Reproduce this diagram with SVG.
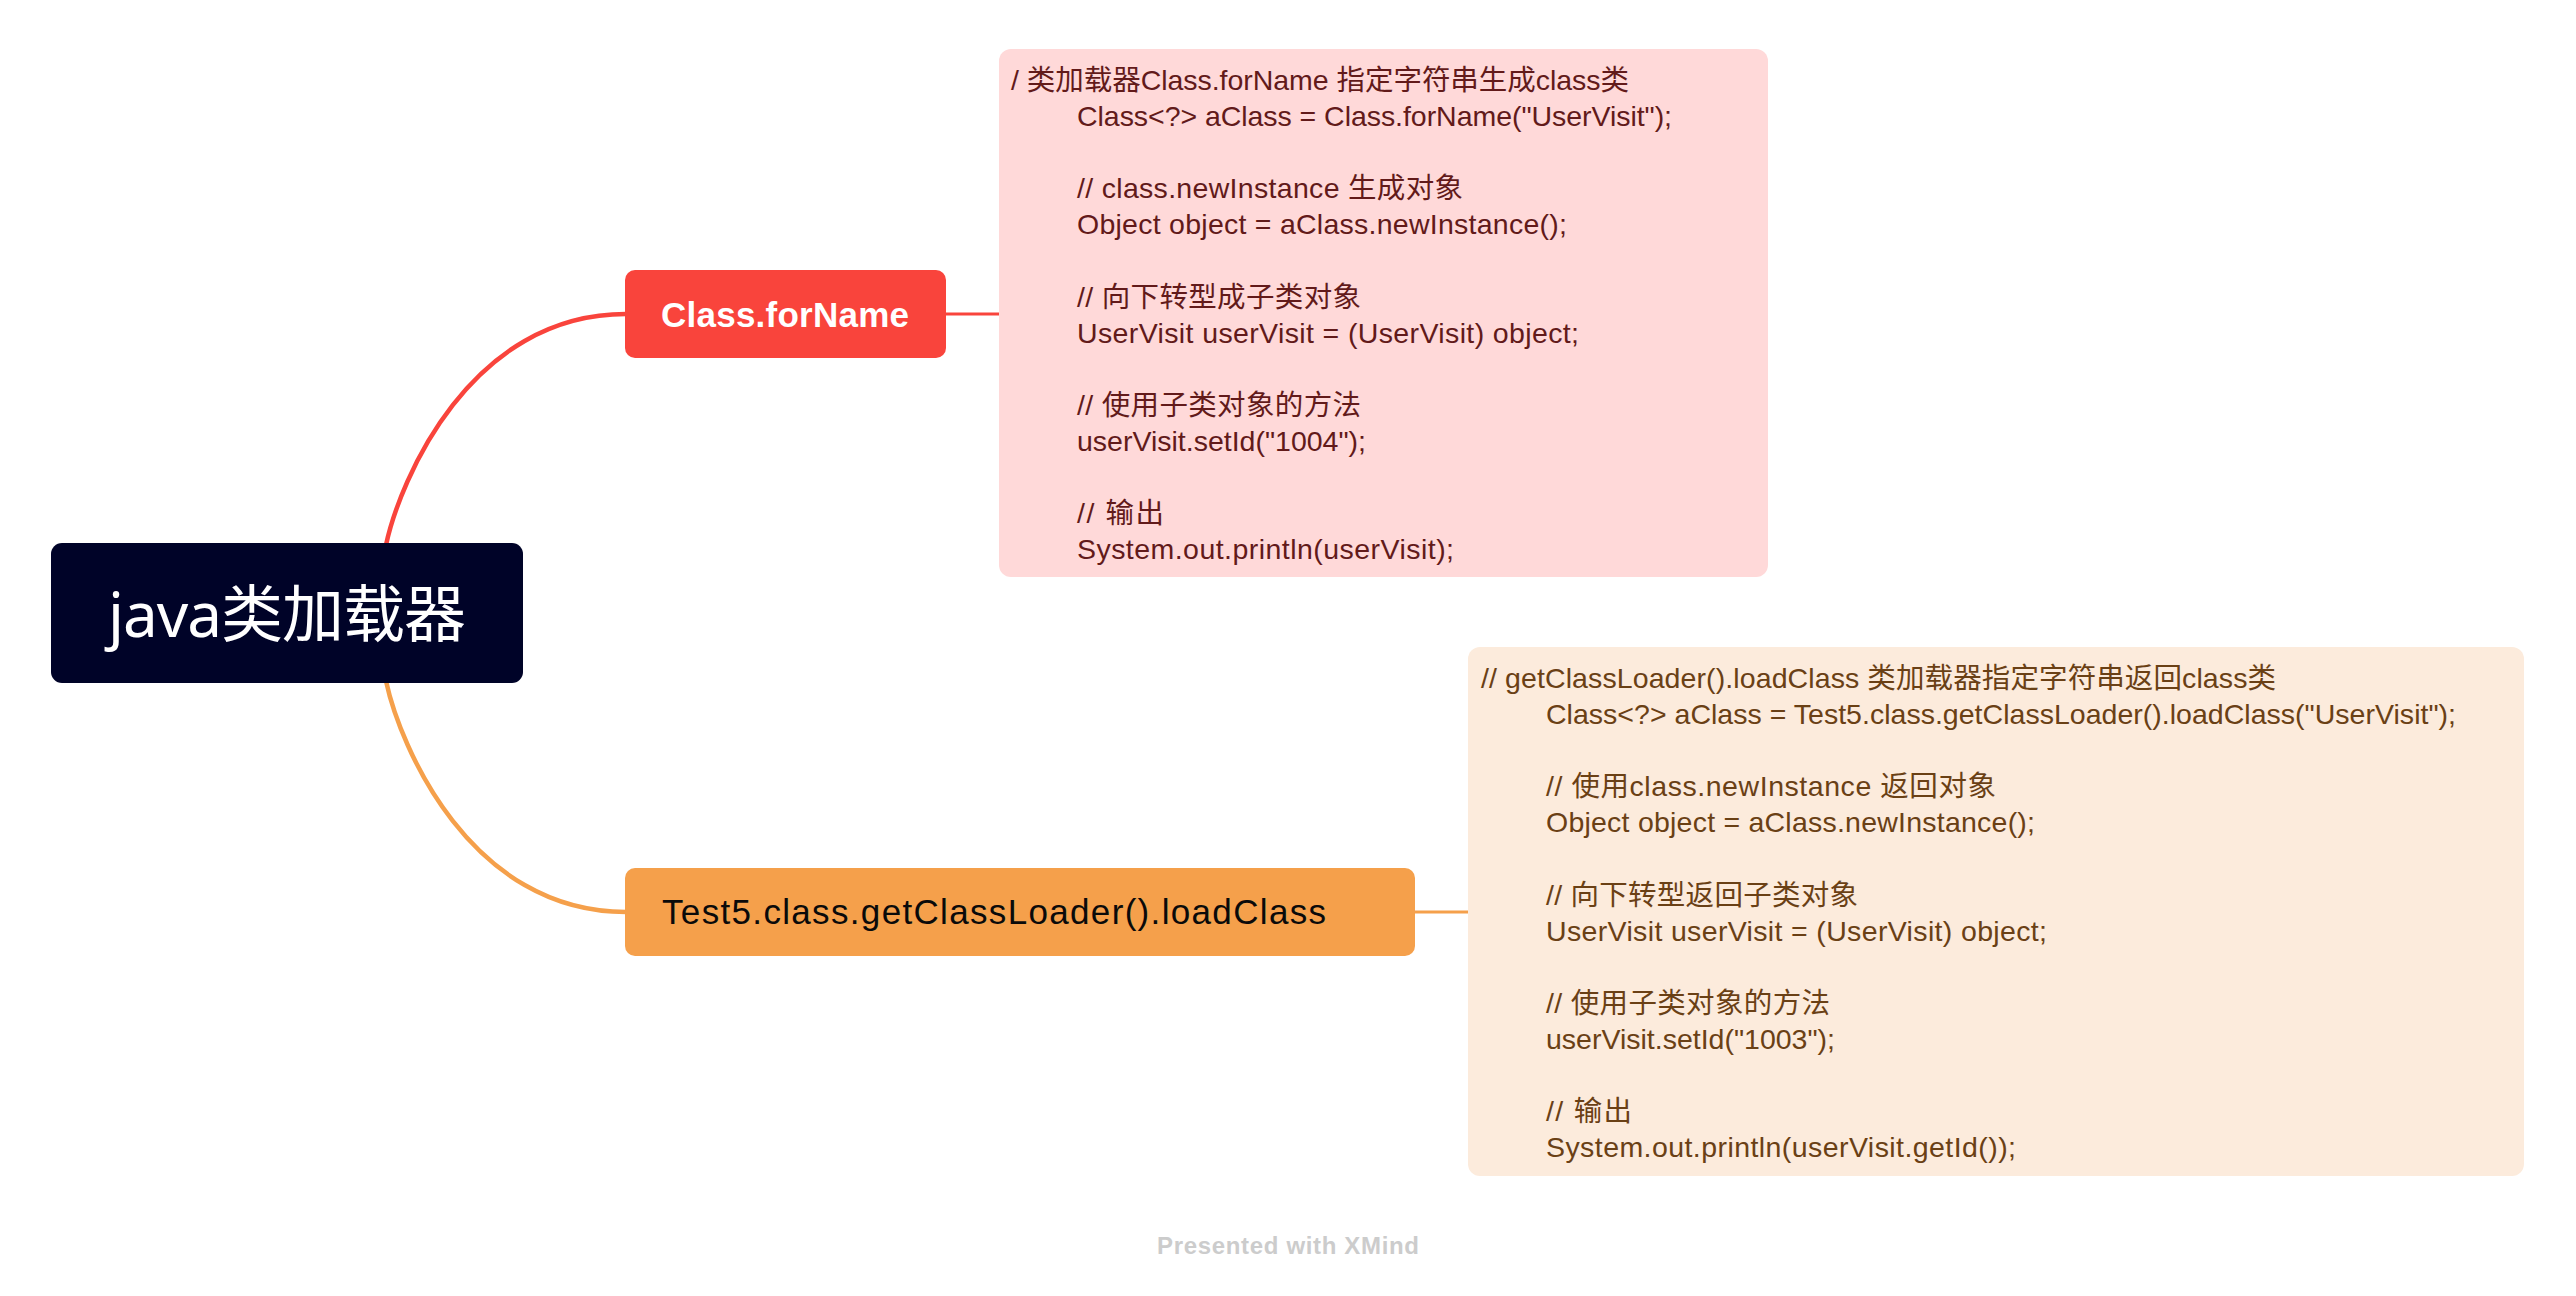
<svg xmlns="http://www.w3.org/2000/svg" width="2576" height="1296" viewBox="0 0 2576 1296">
<style>
.code{font-family:'Liberation Sans','Noto Sans CJK SC',sans-serif;font-size:28.5px}
.n1{fill:#621a1a}
.n2{fill:#6a4015}
.branch{fill:none;stroke-width:4.5;stroke-linecap:round}
.link{fill:none;stroke-width:3}
</style>
<rect x="0" y="0" width="2576" height="1296" fill="#ffffff"/>
<g id="connectors">
<path class="branch" stroke="#f9443c" d="M386,545 C400,480 470,314 626,314"/>
<path class="branch" stroke="#f5a04b" d="M386,681 C400,746 470,912 626,912"/>
<path class="link" stroke="#f9443c" d="M946,314 L999,314"/>
<path class="link" stroke="#f5a04b" d="M1415,912 L1468,912"/>
</g>
<g id="root">
<rect x="51" y="543" width="472" height="140" rx="11" fill="#000328"/>
<text x="287" y="637" text-anchor="middle" font-family="'Noto Sans','Noto Sans CJK SC',sans-serif" font-size="62" fill="#ffffff" textLength="358">java类加载器</text>
</g>
<g id="node-forname">
<rect x="625" y="270" width="321" height="88" rx="10" fill="#f9443c"/>
<text x="661" y="327" font-family="'Liberation Sans',sans-serif" font-weight="bold" font-size="35" fill="#ffffff" textLength="248">Class.forName</text>
</g>
<g id="node-loadclass">
<rect x="625" y="868" width="790" height="88" rx="10" fill="#f5a04b"/>
<text x="662" y="924" font-family="'Liberation Sans',sans-serif" font-size="35" fill="#0a0a0a" textLength="664">Test5.class.getClassLoader().loadClass</text>
</g>
<g id="note-forname">
<rect x="999" y="49" width="769" height="528" rx="12" fill="#ffd9d9"/>
<text class="code n1" x="1011" y="90" textLength="618">/ 类加载器Class.forName 指定字符串生成class类</text>
<text class="code n1" x="1077" y="126.1" textLength="595">Class&lt;?&gt; aClass = Class.forName("UserVisit");</text>
<text class="code n1" x="1077" y="198.3" textLength="386">// class.newInstance 生成对象</text>
<text class="code n1" x="1077" y="234.4" textLength="490">Object object = aClass.newInstance();</text>
<text class="code n1" x="1077" y="306.6" textLength="284">// 向下转型成子类对象</text>
<text class="code n1" x="1077" y="342.7" textLength="502">UserVisit userVisit = (UserVisit) object;</text>
<text class="code n1" x="1077" y="414.9" textLength="284">// 使用子类对象的方法</text>
<text class="code n1" x="1077" y="451" textLength="289">userVisit.setId("1004");</text>
<text class="code n1" x="1077" y="523.2" textLength="87">// 输出</text>
<text class="code n1" x="1077" y="559.3" textLength="377">System.out.println(userVisit);</text>
</g>
<g id="note-loadclass">
<rect x="1468" y="647" width="1056" height="529" rx="12" fill="#fcebdc"/>
<text class="code n2" x="1481" y="688" textLength="795">// getClassLoader().loadClass 类加载器指定字符串返回class类</text>
<text class="code n2" x="1546" y="724.1" textLength="910">Class&lt;?&gt; aClass = Test5.class.getClassLoader().loadClass("UserVisit");</text>
<text class="code n2" x="1546" y="796.3" textLength="450">//  使用class.newInstance 返回对象</text>
<text class="code n2" x="1546" y="832.4" textLength="489">Object object = aClass.newInstance();</text>
<text class="code n2" x="1546" y="904.6" textLength="312">// 向下转型返回子类对象</text>
<text class="code n2" x="1546" y="940.7" textLength="501">UserVisit userVisit = (UserVisit) object;</text>
<text class="code n2" x="1546" y="1012.9" textLength="284">// 使用子类对象的方法</text>
<text class="code n2" x="1546" y="1049" textLength="289">userVisit.setId("1003");</text>
<text class="code n2" x="1546" y="1121.2" textLength="86">// 输出</text>
<text class="code n2" x="1546" y="1157.3" textLength="470">System.out.println(userVisit.getId());</text>
</g>
<text x="1288" y="1254" text-anchor="middle" font-family="'Liberation Sans',sans-serif" font-weight="bold" font-size="24" fill="#cccccc" textLength="262">Presented with XMind</text>
</svg>
